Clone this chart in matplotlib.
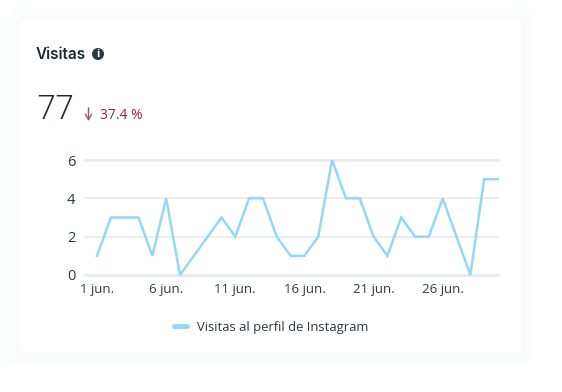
import matplotlib
matplotlib.use('Agg')
import matplotlib.pyplot as plt
from matplotlib.patches import Circle, FancyBboxPatch

days = list(range(1, 31))
visits = [1, 3, 3, 3, 1, 4, 0, 1, 2, 3, 2, 4, 4, 2, 1, 1, 2, 6, 4, 4, 2, 1, 3, 2, 2, 4, 2, 0, 5, 5]
tick_days = [1, 6, 11, 16, 21, 26]
tick_labels = ['1 jun.', '6 jun.', '11 jun.', '16 jun.', '21 jun.', '26 jun.']
y_ticks = [0, 2, 4, 6]

plt.rcParams['font.family'] = ['Open Sans', 'DejaVu Sans']

fig = plt.figure(figsize=(5.62, 3.92), dpi=100, facecolor='white')

# background in pixel coordinates, card + faint shadow
bg = fig.add_axes([0, 0, 1, 1], zorder=0)
bg.set_xlim(0, 562)
bg.set_ylim(392, 0)
bg.axis('off')
for grow, col in [(14, '#fdfeff'), (9, '#fbfdfe'), (4, '#f8fcfd')]:
    bg.add_patch(FancyBboxPatch((20 - grow, 19 - grow), 502 + 2 * grow, 333 + 2 * grow,
                                boxstyle='round,pad=0,rounding_size=10', fc=col, ec='none'))
bg.add_patch(FancyBboxPatch((20, 19), 502, 333, boxstyle='round,pad=0,rounding_size=5',
                            fc='white', ec='none'))

dark = '#1c2b33'
bg.text(36, 54.5, 'Visitas', fontsize=11, fontweight='semibold', color=dark, family='Inter',
        va='center', ha='left')
bg.add_patch(Circle((98, 54), 6, fc='#283a45', ec='none'))
bg.text(98, 54, 'i', fontsize=8, fontweight='bold', color='white', ha='center', va='center')
bg.text(36, 110, '77', fontsize=24, fontweight='light', color=dark, va='center', ha='left',
        family='Open Sans')
bg.annotate('', xy=(88.5, 121), xytext=(88.5, 108),
            arrowprops=dict(arrowstyle='->,head_width=0.22,head_length=0.38', color='#a8505f', lw=1,
                            shrinkA=0, shrinkB=0))
bg.text(100, 115, '37.4 %', fontsize=10, color='#8f2a3c', va='center', ha='left')

ax = fig.add_axes([85 / 562, 1 - 275 / 392, 413 / 562, 115 / 392], zorder=1)
ax.patch.set_alpha(0)
ax.set_xlim(0.13, 30)
ax.set_ylim(0, 6)
ax.plot(days, visits, color='#93d8f7', linewidth=1.8, label='Visitas al perfil de Instagram',
        solid_joinstyle='miter', clip_on=False, zorder=3)

ax.set_yticks(y_ticks)
ax.set_yticklabels([str(v) for v in y_ticks], fontsize=10.5, color='#2b3a43')
ax.set_xticks(tick_days)
ax.set_xticklabels(tick_labels, fontsize=9.5, color='#2b3a43')
ax.tick_params(length=0)
ax.tick_params(axis='y', pad=7)
ax.tick_params(axis='x', pad=6)
for s in ax.spines.values():
    s.set_visible(False)
for v in y_ticks:
    ax.axhline(v, color='#e8eaeb', linewidth=2 if v in (0, 6) else 1.2, clip_on=False, zorder=1)

leg = ax.legend(loc='center', bbox_to_anchor=(271 / 562, 1 - 327 / 392), bbox_transform=fig.transFigure,
                frameon=False, fontsize=9.4, handlelength=1.0, handletextpad=0.75, labelcolor='#2b3a43')
leg.get_lines()[0].set_linewidth(3.5)
leg.get_lines()[0].set_solid_capstyle('round')

fig.savefig('out.png', dpi=100)
